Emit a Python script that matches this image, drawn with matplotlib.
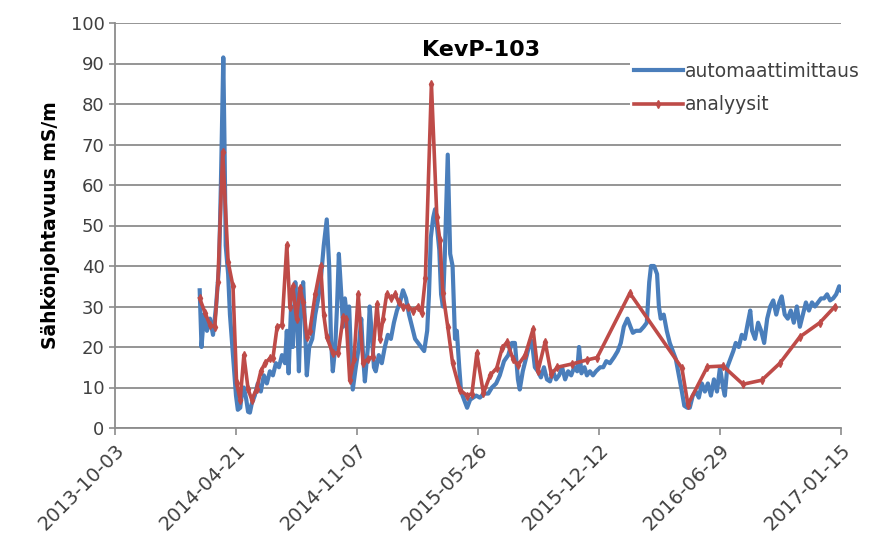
import numpy as np
import matplotlib
matplotlib.use("Agg")
import matplotlib.pyplot as plt

# Conductivity at KevP-103: logger vs. lab analyses
START = np.datetime64("2013-10-03")

# automaattimittaus: days since START, value (mS/m)
auto_days = [140, 143, 147, 152, 157, 162, 167, 172, 175, 179, 181, 183, 187, 190,
             193, 197, 200, 203, 207, 210, 213, 217, 220, 223, 226, 231, 236, 241,
             246, 251, 256, 261, 266, 271, 276, 281, 284, 287, 291, 294, 298, 301,
             304, 307, 311, 314, 317, 321, 326, 331, 336, 341, 345, 350, 354, 357,
             360, 364, 367, 370, 374, 377, 380, 383, 387, 390, 393, 398, 403, 407,
             410, 413, 418, 421, 425, 428, 431, 436, 441, 446, 451, 456, 461, 466,
             471, 476, 481, 486, 491, 496, 501, 506, 511, 516, 519, 522, 526, 529,
             532, 536, 539, 542, 545, 550, 554, 558, 562, 565, 569, 572, 577, 582,
             587, 592, 597, 603, 610, 617, 623, 630, 636, 643, 650, 656, 661, 666,
             669, 674, 679, 684, 689, 694, 699, 704, 709, 714, 719, 724, 729, 734,
             739, 744, 749, 754, 759, 764, 767, 771, 776, 780, 785, 790, 795, 802,
             807, 812, 818, 825, 831, 836, 841, 847, 852, 856, 861, 868, 874, 879,
             883, 886, 891, 896, 899, 902, 907, 912, 917, 922, 927, 932, 937, 941,
             946, 950, 955, 960, 965, 970, 975, 980, 985, 990, 995, 1000, 1005, 1008,
             1012, 1017, 1022, 1026, 1031, 1036, 1041, 1046, 1050, 1053, 1058, 1063,
             1068, 1073, 1078, 1083, 1088, 1093, 1098, 1102, 1107, 1112, 1117, 1122,
             1127, 1132, 1137, 1142, 1147, 1152, 1157, 1162, 1167, 1172, 1177, 1182,
             1187, 1192, 1197, 1200]
auto_vals = [34, 20, 28, 24, 27, 23, 30, 40, 60, 91.5, 70, 45, 38, 28,
             22, 14, 8, 4.5, 5, 9, 10, 7, 4, 3.8, 6, 8, 11, 9,
             13, 11, 14, 13, 16, 15, 18, 16, 24, 13.5, 30, 20, 36, 28,
             14, 30, 36, 25, 13, 20, 22, 28, 32, 38, 45, 51.5, 40, 22,
             14, 20, 30, 43, 33, 25, 32, 28, 30, 18, 9.5, 15, 20, 27,
             18, 11.5, 20, 30, 22, 15, 14, 18, 16, 20, 23, 22, 26, 29,
             31, 34, 32, 28, 25, 22, 21, 20, 19, 24, 33, 47, 52, 54,
             50, 44, 33, 30, 42, 67.5, 43, 40, 22, 24, 15, 9, 7, 5,
             7, 7.5, 8, 7.5, 8.5, 8.5, 10, 11, 13, 16.5, 18, 21, 21, 12,
             9.5, 14, 17, 20, 21.5, 15, 14, 12.5, 15, 12, 11.5, 14, 12, 13,
             15, 12, 14, 13, 15, 14, 20, 13.5, 15, 13, 14, 13, 14, 15,
             15, 16.5, 16, 17.5, 19, 21, 25, 27, 25, 23.5, 24, 24, 25, 26,
             36, 40, 40, 38, 30, 27, 28, 24, 21, 19, 17, 13, 9, 5.5,
             5, 5, 8, 9, 7.5, 11, 9, 11, 8, 12, 9, 15, 10, 8,
             15, 17, 19, 21, 20, 23, 22, 26, 29, 24, 22, 26,
             24, 21, 27, 30, 31.5, 28, 31, 32.5, 28, 27, 29, 26,
             30, 25, 28, 31, 29, 31, 30, 31, 32, 32, 33, 31.5,
             32, 33, 35, 34]

# analyysit: days since START, value (mS/m)
lab_days = [140, 149, 157, 165, 170, 178, 187, 195, 201, 207, 213, 220, 226, 234,
            241, 248, 256, 261, 268, 276, 284, 289, 294, 300, 306, 311, 317, 322,
            331, 340, 345, 350, 360, 369, 377, 382, 388, 395, 402, 410, 418, 426,
            433, 438, 443, 449, 457, 463, 469, 476, 484, 493, 501, 507, 513, 523,
            532, 537, 542, 550, 558, 570, 582, 590, 598, 609, 620, 631, 640, 648,
            658, 666, 678, 691, 699, 711, 721, 731, 755, 780, 797, 851, 937, 947,
            979, 1005, 1038, 1069, 1099, 1132, 1165, 1190]
lab_vals = [32, 28.4, 25.4, 25, 36, 68.2, 41, 35, 11, 7, 18, 9.6, 7, 9.6,
            14, 16, 17.2, 17.2, 25, 25.4, 45.2, 30, 35, 27, 34.6, 31, 22.5, 24,
            33, 40, 28, 22.5, 18.4, 18.6, 27.3, 27, 11.8, 17, 33, 16, 17, 17.6,
            30.5, 22, 27, 33, 32, 33, 31, 30, 30, 29, 30, 28.4, 37, 85,
            52, 46.4, 33.3, 25, 16, 9.4, 8, 8.5, 18.4, 8.6, 13, 14.8, 19.8, 21.2,
            17, 15.5, 18, 24.4, 14, 21.3, 13.3, 15, 15.8, 16.8, 17.4, 33.3, 14.8, 5.8,
            15.1, 15.3, 10.8, 11.8, 16, 22.5, 26, 30]

tick_days = [0, 200, 400, 600, 800, 1000, 1200]
y_ticks = list(range(0, 101, 10))

BLUE = "#4a7ebb"
RED = "#be4b48"
GRID = "#8c8c8c"
TXT = "#404040"

auto_dates = START + np.array(auto_days).astype("timedelta64[D]")
lab_dates = START + np.array(lab_days).astype("timedelta64[D]")
tick_dates = START + np.array(tick_days).astype("timedelta64[D]")

fig = plt.figure(figsize=(8.73, 5.39), dpi=100)
ax = fig.add_axes([115 / 873, 1 - 428 / 539, 726 / 873, 405 / 539])

ax.plot(auto_dates, auto_vals, color=BLUE, lw=3.0, label="automaattimittaus", zorder=3)
ax.plot(lab_dates, lab_vals, color=RED, lw=2.6, marker="d", ms=4,
        label="analyysit", zorder=4)

ax.set_xlim(tick_dates[0], tick_dates[-1])
ax.set_ylim(0, 100)
ax.set_yticks(y_ticks)
ax.set_xticks(tick_dates)
ax.set_xticklabels([str(d) for d in tick_dates], rotation=45, ha="right",
                   rotation_mode="anchor", fontsize=14, color=TXT)
ax.tick_params(axis="y", labelsize=13, labelcolor=TXT, color=GRID, length=4, width=1.2)
ax.tick_params(axis="x", color=GRID, length=5, width=1.2, pad=4)

ax.grid(axis="y", color=GRID, lw=1.3)
ax.set_axisbelow(True)
for s in ["top", "right"]:
    ax.spines[s].set_visible(False)
for s in ["left", "bottom"]:
    ax.spines[s].set_color(GRID)
    ax.spines[s].set_linewidth(1.3)

ax.set_ylabel("Sähkönjohtavuus mS/m", fontsize=13.5, fontweight="bold", labelpad=8)
ax.text(0.504, 0.933, "KevP-103", transform=ax.transAxes, ha="center", va="center",
        fontsize=16, fontweight="bold")

leg = fig.legend(loc="upper left", bbox_to_anchor=(630 / 873, 1 - 58 / 539),
                 fontsize=13.5, frameon=True, facecolor="white", edgecolor="none",
                 framealpha=1, handlelength=2.6, handletextpad=0.15,
                 labelspacing=0.77, borderpad=0.2, borderaxespad=0)
for t in leg.get_texts():
    t.set_color(TXT)

fig.savefig("out.png", dpi=100)
